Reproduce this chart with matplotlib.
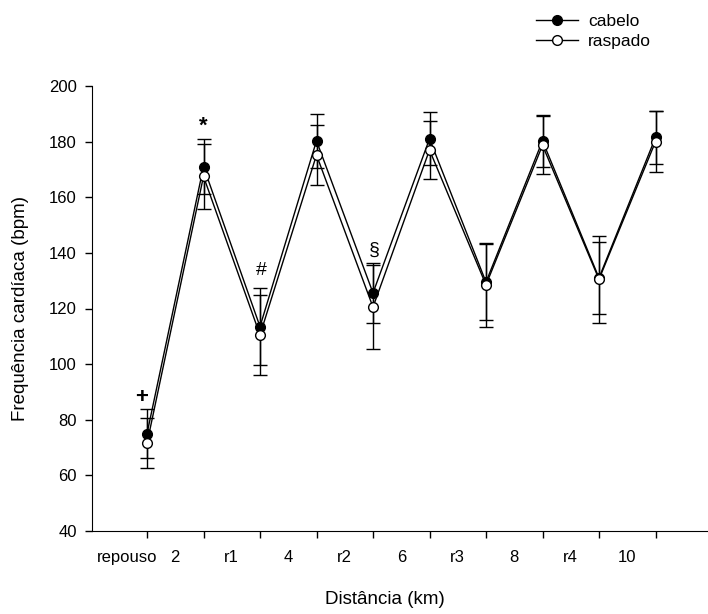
import numpy as np
import matplotlib.pyplot as plt
from matplotlib.lines import Line2D

plt.rcParams['font.family'] = ['Liberation Sans', 'DejaVu Sans']

# data
categorias = ['repouso', '2', 'r1', '4', 'r2', '6', 'r3', '8', 'r4', '10']
cabelo = [75.0, 171.0, 113.5, 180.3, 125.6, 181.0, 129.5, 180.3, 131.0, 181.5]
cabelo_dp = [8.8, 10.0, 13.8, 9.8, 10.8, 9.5, 13.7, 9.3, 13.0, 9.5]
raspado = [71.5, 167.5, 110.5, 175.2, 120.5, 177.0, 128.5, 178.7, 130.5, 180.0]
raspado_dp = [9.0, 11.8, 14.5, 10.8, 15.0, 10.5, 15.0, 10.5, 15.7, 11.0]

# significance marks: (category index, y value, symbol)
marcas = [(0, 88.0, '+'), (1, 185.5, '*'), (2, 133.5, '#'), (4, 141.0, '§')]

x = np.arange(len(categorias))

fig = plt.figure(figsize=(7.08, 6.14), dpi=100)
ax = fig.add_axes([92/708, 1 - 531/614, 1 - 92/708, (531 - 86)/614])

ax.errorbar(x, cabelo, yerr=cabelo_dp, color='black', lw=1, marker='o',
            ms=7, mfc='black', mec='black', capsize=5, capthick=1,
            elinewidth=1, zorder=3)
ax.errorbar(x, raspado, yerr=raspado_dp, color='black', lw=1, marker='o',
            ms=7, mfc='white', mec='black', capsize=5, capthick=1,
            elinewidth=1, zorder=4)

for i, yv, s in marcas:
    if s == '+':
        ax.text(i - 0.1, yv, s, ha='center', va='center', fontsize=16, fontweight='bold')
    elif s == '*':
        ax.text(i, yv, s, ha='center', va='center', fontsize=16, fontweight='bold')
    else:
        ax.text(i + 0.03, yv, s, ha='center', va='center', fontsize=14)

ax.set_xlim(-(147 - 92)/56.5, (708 - 147)/56.5)
ax.set_ylim(40, 200)
ax.set_yticks(np.arange(40, 201, 20))

# ticks at the points, labels shifted a bit to the left (as in the original)
ax.set_xticks(x)
ax.set_xticklabels([])
lab_pos = x - 0.5
lab_pos[0] = -0.35
ax.set_xticks(lab_pos, minor=True)
ax.set_xticklabels(categorias, minor=True)
ax.tick_params(axis='x', which='minor', length=0, pad=14, labelsize=12)
ax.tick_params(axis='x', which='major', length=5, width=1)
ax.tick_params(axis='y', length=5, width=1, labelsize=12, pad=6)

for sp in ['top', 'right']:
    ax.spines[sp].set_visible(False)

ax.set_ylabel('Frequência cardíaca (bpm)', fontsize=13.5)
ax.yaxis.set_label_coords(-(92 - 29)/616, 0.5)
ax.set_xlabel('Distância (km)', fontsize=13.5)
ax.xaxis.set_label_coords((385 - 92)/(708 - 92), -(591 - 531)/445)

h = [Line2D([], [], color='black', lw=1, marker='o', ms=7, mfc='black', mec='black'),
     Line2D([], [], color='black', lw=1, marker='o', ms=7, mfc='white', mec='black')]
fig.legend(h, ['cabelo', 'raspado'], loc='upper left', bbox_to_anchor=(529/708, 1 - 7/614),
           frameon=False, fontsize=12.5, handlelength=2.4, handletextpad=0.6,
           labelspacing=0.3, borderaxespad=0)

fig.savefig('out.png', dpi=100)
